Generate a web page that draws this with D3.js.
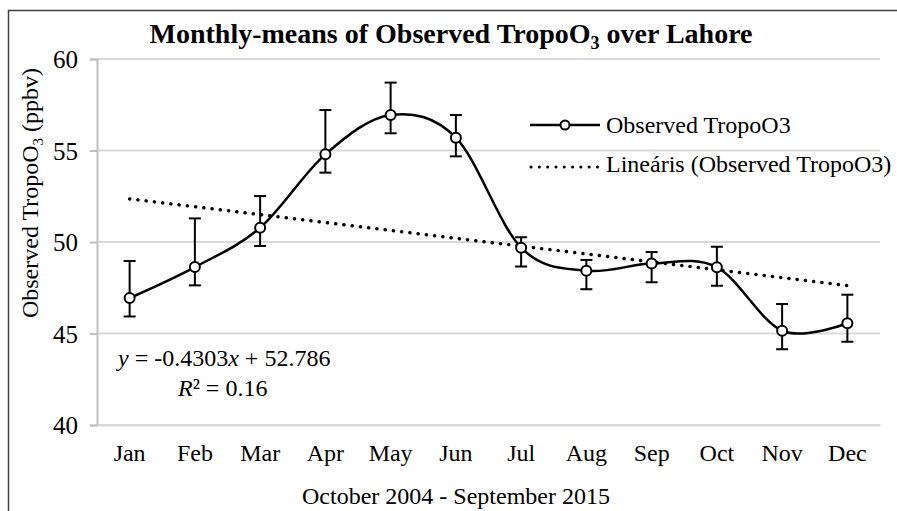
<!DOCTYPE html>
<html><head><meta charset="utf-8">
<script src="https://cdn.jsdelivr.net/npm/d3@7"></script>
<style>body{margin:0;background:#fff}svg{display:block;font-family:"Liberation Serif","Times New Roman",serif}</style>
</head><body><svg id="c" width="897" height="511"></svg>
<script>
const months = ["Jan","Feb","Mar","Apr","May","Jun","Jul","Aug","Sep","Oct","Nov","Dec"];
const observed = [46.94,48.63,50.78,54.79,56.94,55.70,49.69,48.43,48.82,48.62,45.15,45.56];
const errUpper = [48.96,51.29,52.51,57.21,58.71,56.94,50.26,49.02,49.45,49.74,46.61,47.12];
const errLower = [45.93,47.63,49.78,53.79,55.94,54.68,48.66,47.42,47.80,47.61,44.14,44.55];
const trendSlope = -0.4303, trendIntercept = 52.786;
const yTicks = [40,45,50,55,60];

const svg = d3.select("#c");
const L = 97, R = 880, T = 59, B = 425;
const x = d3.scaleBand().domain(months).range([L, R]);
const y = d3.scaleLinear().domain([40,60]).range([B, T]);
const cx = m => x(m) + x.bandwidth()/2;

// outer border
svg.append("rect").attr("x",8.5).attr("y",10.5).attr("width",900).attr("height",520)
  .attr("fill","none").attr("stroke","#404040").attr("stroke-width",1.5);

// gridlines
svg.append("g").selectAll("line").data(yTicks).join("line")
  .attr("x1",L).attr("x2",R).attr("y1",d=>y(d)).attr("y2",d=>y(d))
  .attr("stroke","#d9d9d9").attr("stroke-width",2);

// y axis
const ya = svg.append("g").attr("transform",`translate(${L},0)`)
  .call(d3.axisLeft(y).tickValues(yTicks).tickSize(7).tickPadding(12).tickFormat(d3.format("d")));
ya.select(".domain").attr("stroke","#bfbfbf").attr("stroke-width",2);
ya.selectAll(".tick line").attr("stroke","#bfbfbf").attr("stroke-width",2);
ya.selectAll("text").attr("font-size",25).attr("fill","#000").attr("font-family","Liberation Serif").attr("dy","0.34em");

// x axis
const xa = svg.append("g").attr("transform",`translate(0,${B})`)
  .call(d3.axisBottom(x).tickSize(0).tickPadding(0));
xa.select(".domain").attr("stroke","#d9d9d9").attr("stroke-width",2);
xa.selectAll("text").attr("font-size",24).attr("fill","#000").attr("font-family","Liberation Serif")
  .attr("dy",null).attr("y",36);

// trendline
const tl = [1, months.length].map(i => [cx(months[i-1]), y(trendSlope*i + trendIntercept)]);
svg.append("path").attr("d", d3.line()(tl)).attr("fill","none").attr("stroke","#000")
  .attr("stroke-width",3.5).attr("stroke-linecap","round").attr("stroke-dasharray","0.1 8.2");

// error bars
const eb = svg.append("g").attr("stroke","#000").attr("stroke-width",2);
months.forEach((m,i)=>{
  const X = cx(m);
  eb.append("line").attr("x1",X).attr("x2",X).attr("y1",y(errUpper[i])).attr("y2",y(errLower[i]));
  [errUpper[i], errLower[i]].forEach(v=>eb.append("line").attr("x1",X-6).attr("x2",X+6).attr("y1",y(v)).attr("y2",y(v)));
});

// smooth line
const pts = months.map((m,i)=>[cx(m), y(observed[i])]);
svg.append("path").attr("d", d3.line().curve(d3.curveCatmullRom.alpha(0))(pts))
  .attr("fill","none").attr("stroke","#000").attr("stroke-width",2.5);
svg.append("g").selectAll("circle").data(pts).join("circle")
  .attr("cx",d=>d[0]).attr("cy",d=>d[1]).attr("r",5)
  .attr("fill","#fff").attr("stroke","#000").attr("stroke-width",2);

// title
const title = svg.append("text").attr("x",451).attr("y",43).attr("text-anchor","middle")
  .attr("font-size",28).attr("font-weight","bold");
title.append("tspan").text("Monthly-means of Observed TropoO");
title.append("tspan").attr("font-size",18).attr("dy",6).text("3");
title.append("tspan").attr("dy",-6).text(" over Lahore");

// y label
const yl = svg.append("text").attr("transform","translate(38,193) rotate(-90)")
  .attr("text-anchor","middle").attr("font-size",24);
yl.append("tspan").text("Observed TropoO");
yl.append("tspan").attr("font-size",15).attr("dy",5).text("3");
yl.append("tspan").attr("dy",-5).text(" (ppbv)");

// x title
svg.append("text").attr("x",456).attr("y",504).attr("text-anchor","middle").attr("font-size",24)
  .text("October 2004 - September 2015");

// legend
const lg = svg.append("g");
lg.append("line").attr("x1",530).attr("x2",600).attr("y1",125).attr("y2",125).attr("stroke","#000").attr("stroke-width",2.5);
lg.append("circle").attr("cx",565).attr("cy",125).attr("r",4.5).attr("fill","#fff").attr("stroke","#000").attr("stroke-width",2);
lg.append("text").attr("x",606).attr("y",133).attr("font-size",24).text("Observed TropoO3");
lg.append("line").attr("x1",531).attr("x2",600).attr("y1",167).attr("y2",167).attr("stroke","#000")
  .attr("stroke-width",3).attr("stroke-linecap","round").attr("stroke-dasharray","0.1 8.2");
lg.append("text").attr("x",606).attr("y",172).attr("font-size",24).text("Lineáris (Observed TropoO3)");

// equation
const eq = svg.append("text").attr("x",118).attr("y",366).attr("font-size",24);
eq.append("tspan").attr("font-style","italic").text("y");
eq.append("tspan").text(` = ${trendSlope}`);
eq.append("tspan").attr("font-style","italic").text("x");
eq.append("tspan").text(` + ${trendIntercept}`);
const r2 = svg.append("text").attr("x",178).attr("y",396).attr("font-size",24);
r2.append("tspan").attr("font-style","italic").text("R");
r2.append("tspan").text("² = 0.16");
</script></body></html>
